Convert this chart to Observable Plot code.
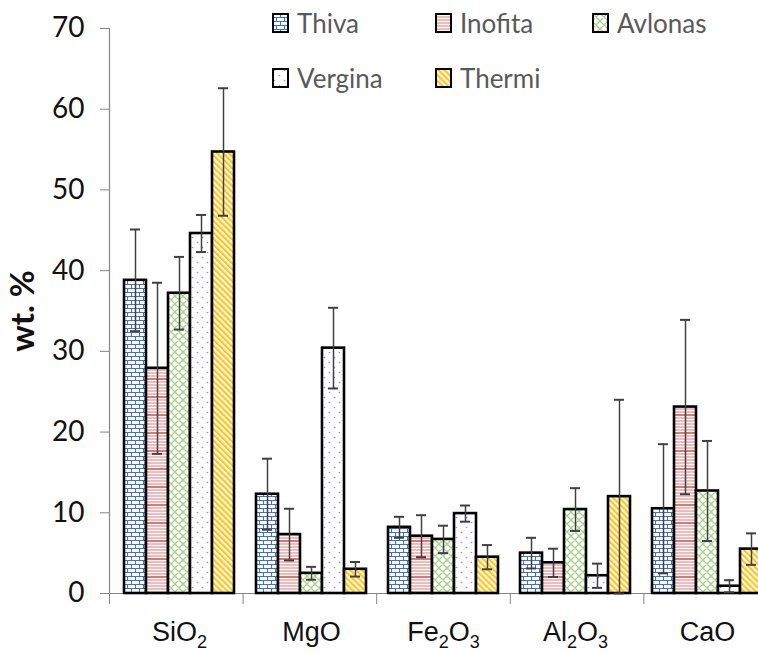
<!DOCTYPE html>
<html>
<head>
<meta charset="utf-8">
<script src="https://cdn.jsdelivr.net/npm/d3@7"></script>
<script src="https://cdn.jsdelivr.net/npm/@observablehq/plot@0.6"></script>
<style>
  html, body { margin: 0; padding: 0; background: white; overflow: hidden; }
  #wrap { position: relative; width: 758px; height: 654px; }
  #wrap > svg { position: absolute; left: 0; top: 0; }
  .lg { position: absolute; font-family: Lato, sans-serif; font-size: 26px; color: #595959; line-height: 26px; white-space: nowrap; }
  .sw { position: absolute; }
</style>
</head>
<body>
<svg width="0" height="0" style="position:absolute">
  <defs>
    <pattern id="pat-0" patternUnits="userSpaceOnUse" width="8" height="8">
      <rect width="8" height="8" fill="white"/>
      <path d="M0 0.5H8M0 4.5H8M0.5 0.5V4.5M4.5 4.5V8.5" stroke="#3f6fcf" stroke-width="1.1" fill="none"/>
    </pattern>
    <pattern id="pat-1" patternUnits="userSpaceOnUse" width="8" height="18">
      <rect width="8" height="18" fill="white"/>
      <path d="M0 1H8" stroke="#d23b3b" stroke-width="1.4"/>
      <path d="M0 4H8M0 7H8M0 10H8M0 13H8M0 16H8" stroke="#f0a3a3" stroke-width="1.4"/>
    </pattern>
    <pattern id="pat-2" patternUnits="userSpaceOnUse" width="8" height="8">
      <rect width="8" height="8" fill="white"/>
      <path d="M0 0L8 8M8 0L0 8M-1 7L1 9M7 -1L9 1M-1 1L1 -1M7 9L9 7" stroke="#a8cf88" stroke-width="1.3" fill="none"/>
    </pattern>
    <pattern id="pat-3" patternUnits="userSpaceOnUse" width="10" height="10">
      <rect width="10" height="10" fill="white"/>
      <circle cx="2.5" cy="2.5" r="0.8" fill="#9a8cc8"/>
      <circle cx="7.5" cy="7.5" r="0.8" fill="#9a8cc8"/>
    </pattern>
    <pattern id="pat-4" patternUnits="userSpaceOnUse" width="4.2" height="4.2" patternTransform="rotate(-45)">
      <rect width="4.2" height="4.2" fill="#fff8e0"/>
      <rect width="2" height="4.2" fill="#ffc21a"/>
    </pattern>
  </defs>
</svg>
<div id="wrap"></div>
<script>
const categories = ["SiO2", "MgO", "Fe2O3", "Al2O3", "CaO"];
const sites = ["Thiva", "Inofita", "Avlonas", "Vergina", "Thermi"];
const yTicks = [0, 10, 20, 30, 40, 50, 60, 70];

// mean wt. % per site, in category order
const thivaMean   = [38.8, 12.3, 8.2, 5.0, 10.5];
const inofitaMean = [27.9, 7.3, 7.1, 3.8, 23.1];
const avlonasMean = [37.2, 2.5, 6.7, 10.4, 12.7];
const verginaMean = [44.6, 30.4, 9.9, 2.2, 0.9];
const thermiMean  = [54.7, 3.0, 4.5, 12.0, 5.5];
// error (± standard deviation) per site
const thivaErr   = [6.3, 4.4, 1.3, 1.9, 8.0];
const inofitaErr = [10.6, 3.2, 2.6, 1.75, 10.8];
const avlonasErr = [4.5, 0.8, 1.7, 2.65, 6.2];
const verginaErr = [2.3, 5.0, 1.0, 1.5, 0.75];
const thermiErr  = [7.9, 0.9, 1.5, 12.0, 1.95];

const means = [thivaMean, inofitaMean, avlonasMean, verginaMean, thermiMean];
const errs = [thivaErr, inofitaErr, avlonasErr, verginaErr, thermiErr];

const data = [];
sites.forEach((s, i) => categories.forEach((c, j) => {
  data.push({site: s, cat: c, value: means[i][j], lo: Math.max(0, means[i][j] - errs[i][j]), hi: means[i][j] + errs[i][j]});
}));

const W = 758, H = 654;
const M = {left: 109, right: -19, top: 28, bottom: 61};
const wrap = document.getElementById("wrap");

// Layer 1: axes
const axes = Plot.plot({
  width: W, height: H,
  marginLeft: M.left, marginRight: M.right, marginTop: M.top, marginBottom: M.bottom,
  style: {overflow: "visible", background: "white"},
  x: {domain: [0, categories.length]},
  y: {domain: [0, 70]},
  marks: [
    Plot.axisY({ticks: yTicks, tickSize: 9, tickPadding: 16, fontSize: 28, fontFamily: "Lato, sans-serif", stroke: "#868686", color: "#111", label: null}),
    Plot.axisX({ticks: d3.range(0, categories.length), tickSize: 11, tickFormat: () => "", stroke: "#868686", label: null}),
    Plot.ruleY([0], {stroke: "#868686", strokeWidth: 1.2}),
    Plot.ruleX([0], {stroke: "#868686", strokeWidth: 1.2}),
    Plot.text(["wt. %"], {frameAnchor: "left", textAnchor: "middle", rotate: -90, dx: -86, fontWeight: "bold", fontSize: 33, fontFamily: "Lato, sans-serif", fill: "#111"})
  ]
});
wrap.appendChild(axes);

// Layer 2: bars
const bars = Plot.plot({
  width: W, height: H,
  marginLeft: M.left, marginRight: M.right, marginTop: M.top, marginBottom: M.bottom,
  style: {overflow: "hidden", background: "transparent"},
  fx: {domain: categories, paddingInner: 0.17, paddingOuter: 0.1},
  x: {domain: sites, padding: 0, axis: null},
  y: {domain: [0, 70], axis: null},
  color: {type: "ordinal", domain: sites, range: sites.map((s, i) => `url(#pat-${i})`)},
  marks: [
    Plot.barY(data, {fx: "cat", x: "site", y: "value", fill: "site", stroke: "black", strokeWidth: 2.6}),
    Plot.ruleX(data, {fx: "cat", x: "site", y1: "lo", y2: "hi", stroke: "#404040", strokeWidth: 1.5}),
    Plot.tickY(data, {fx: "cat", x: "site", y: "hi", inset: 6, stroke: "#404040", strokeWidth: 2}),
    Plot.tickY(data, {fx: "cat", x: "site", y: "lo", inset: 6, stroke: "#404040", strokeWidth: 2}),
    Plot.axisFx({anchor: "bottom", tickSize: 0, tickPadding: 28, fontSize: 27, fontFamily: "'Liberation Sans', Arial, sans-serif", color: "#111", label: null})
  ]
});
wrap.appendChild(bars);

// subscripts in category labels
const ns = "http://www.w3.org/2000/svg";
bars.querySelectorAll("text").forEach(t => {
  const s = t.textContent;
  if (!categories.includes(s)) return;
  t.textContent = "";
  let shifted = false;
  for (const p of s.match(/\d+|\D+/g)) {
    const ts = document.createElementNS(ns, "tspan");
    ts.textContent = p;
    if (/\d/.test(p)) { ts.setAttribute("font-size", "18"); ts.setAttribute("dy", "7"); shifted = true; }
    else if (shifted) { ts.setAttribute("dy", "-7"); shifted = false; }
    t.appendChild(ts);
  }
});

// Legend (overlaid in the top of the plot area)
const legendPos = [[272, 33], [435, 33], [592, 33], [272, 88], [435, 88]];
sites.forEach((s, i) => {
  const [x, base] = legendPos[i];
  const sw = document.createElementNS(ns, "svg");
  sw.setAttribute("class", "sw");
  sw.setAttribute("width", 17); sw.setAttribute("height", 20);
  sw.style.left = x + "px"; sw.style.top = (base - 20) + "px";
  const r = document.createElementNS(ns, "rect");
  r.setAttribute("x", 1); r.setAttribute("y", 1); r.setAttribute("width", 15); r.setAttribute("height", 18);
  r.setAttribute("fill", `url(#pat-${i})`); r.setAttribute("stroke", "black"); r.setAttribute("stroke-width", 2);
  sw.appendChild(r);
  wrap.appendChild(sw);
  const lab = document.createElement("div");
  lab.className = "lg";
  lab.textContent = s;
  lab.style.left = (x + 25) + "px";
  lab.style.top = (base - 23) + "px";
  wrap.appendChild(lab);
});
</script>
</body>
</html>
